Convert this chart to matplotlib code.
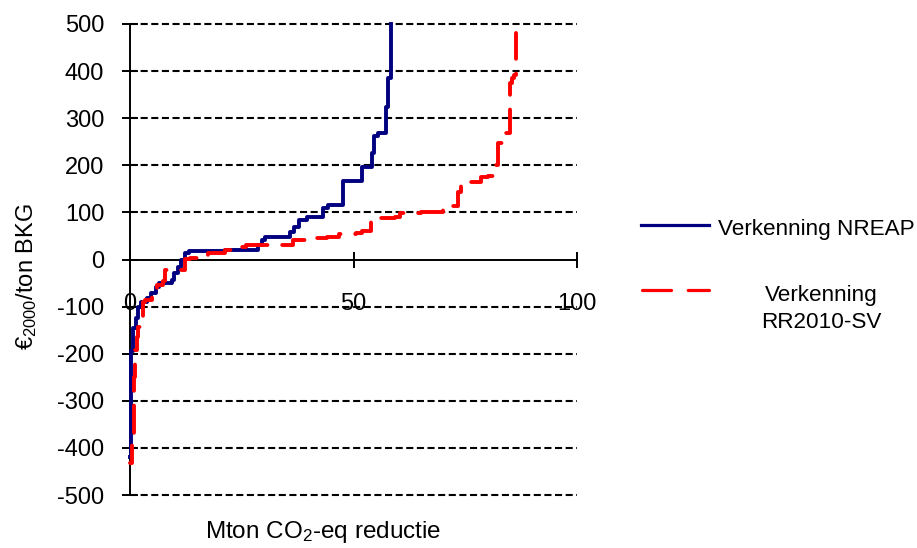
import matplotlib
matplotlib.use("Agg")
import matplotlib.pyplot as plt
from matplotlib.lines import Line2D

plt.rcParams["font.family"] = ["Liberation Sans", "DejaVu Sans"]
plt.rcParams["mathtext.fontset"] = "custom"
plt.rcParams["mathtext.rm"] = "Liberation Sans"
plt.rcParams["mathtext.it"] = "Liberation Sans:italic"
plt.rcParams["mathtext.bf"] = "Liberation Sans:bold"

# Marginal abatement cost curves: start of each measure on the cumulative
# reduction axis (Mton CO2-eq) and its cost (euro2000 per ton GHG)
nreap_x = [0.0, 0.3, 0.7, 1.3, 1.8, 2.5, 3.8, 4.8, 5.8, 6.5, 9.3, 9.8, 10.8,
           11.5, 12.3, 13.2, 21.3, 28.7, 29.5, 30.2, 35.8, 36.8, 37.8, 39.5,
           43.2, 44.3, 47.7, 51.8, 54.2, 54.6, 55.4, 57.3, 57.8, 58.5]
nreap_cost = [-420, -195, -145, -124, -100, -90, -82, -71, -58, -50, -43, -29,
              -15, -1, 13, 17, 20, 31, 41, 48, 59, 70, 84, 91,
              109, 116, 167, 196, 226, 262, 268, 324, 385, 500]

rr_x = [0.0, 0.5, 0.8, 1.1, 1.5, 1.9, 2.3, 2.8, 3.0, 3.3, 4.9, 6.0, 7.4,
        7.8, 12.3, 13.4, 17.5, 21.3, 22.5, 23.0, 26.0, 36.5, 40.0, 44.0,
        46.8, 50.5, 52.0, 54.0, 55.5, 59.3, 60.5, 65.0, 70.0, 70.8, 73.4,
        74.0, 78.5, 80.0, 81.9, 82.3, 83.2, 85.0, 85.4, 86.0, 86.3]
rr_cost = [-432, -370, -250, -192, -164, -143, -125, -114, -90, -86, -65, -54,
           -45, -22, 2, 4, 13, 20, 24, 27, 30, 41, 45, 48,
           54, 57, 61, 80, 89, 91, 98, 100, 109, 114, 144,
           165, 175, 177, 200, 247, 268, 374, 385, 392, 480]

x_ticks = [0, 50, 100]
y_ticks = list(range(-500, 501, 100))

series_labels = ["Verkenning NREAP", "Verkenning\nRR2010-SV"]
nreap_color = "#000080"
rr_color = "#FF0000"

W, H = 917, 548
fig = plt.figure(figsize=(W / 100, H / 100), dpi=100)
ax = fig.add_axes([130 / W, 1 - 495 / H, (577 - 130) / W, (495 - 24) / H])
ax.set_xlim(0, 100)
ax.set_ylim(-500, 500)

# dashed horizontal grid
for yv in y_ticks:
    if yv != 0:
        ax.axhline(yv, color="black", lw=1.5, ls=(0, (3.4, 1.7)),
                   clip_on=False, zorder=1)

ax.step(nreap_x, nreap_cost, where="post", color=nreap_color, lw=2.8,
        zorder=3, clip_on=False)
ax.step(rr_x, rr_cost, where="post", color=rr_color, lw=2.8,
        ls=(2.0, (7.0, 3.8)), dash_capstyle="round", zorder=4, clip_on=False)

for side in ("top", "right"):
    ax.spines[side].set_visible(False)
ax.spines["left"].set_position(("data", 0))
ax.spines["bottom"].set_position(("data", 0))
for side in ("left", "bottom"):
    ax.spines[side].set_linewidth(1.4)
    ax.spines[side].set_zorder(2)

ax.set_xticks(x_ticks)
ax.set_yticks(y_ticks)
ax.set_xticklabels([str(v) for v in x_ticks])
ax.set_yticklabels([str(v) for v in y_ticks])
ax.tick_params(direction="inout", length=12, width=1.4, labelsize=17)
ax.tick_params(axis="y", pad=12.5)
ax.tick_params(axis="x", pad=18)

# axis titles
fig.text(33 / W, 1 - 277 / H, "€$_{2000}$/ton BKG", rotation=90,
         rotation_mode="anchor", ha="center", va="baseline", fontsize=17)
fig.text(323 / W, 1 - 538 / H, "Mton CO$_2$-eq reductie", ha="center",
         va="baseline", fontsize=17.5)

# legend to the right of the plot
fig.add_artist(Line2D([641 / W, 709 / W], [1 - 225 / H] * 2,
                      color=nreap_color, lw=2.3))
fig.add_artist(Line2D([642 / W, 709 / W], [1 - 290 / H] * 2,
                      color=rr_color, lw=2.3, ls=(0, (9.1, 5.2)),
                      dash_capstyle="round"))
fig.text(718 / W, 1 - 235 / H, series_labels[0], ha="left", va="baseline",
         fontsize=16.2)
rr_lines = series_labels[1].split("\n")
fig.text(821 / W, 1 - 301.5 / H, rr_lines[0], ha="center", va="baseline",
         fontsize=16.2)
fig.text(821 / W, 1 - 328.5 / H, rr_lines[1], ha="center", va="baseline",
         fontsize=16.2)

fig.savefig("out.png", dpi=100)
